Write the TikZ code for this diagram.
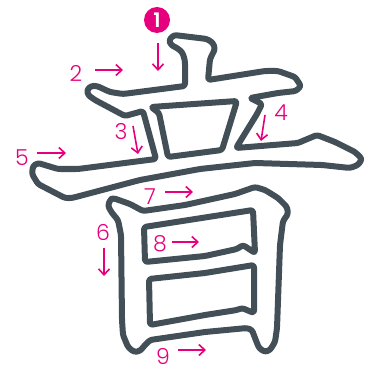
\documentclass[tikz,border=0pt]{standalone}
\usepackage{fontspec}
\usetikzlibrary{arrows.meta}
\newfontfamily\lblfont{Poppins}[UprightFont=* Light]
\newfontfamily\onefont{Poppins}[UprightFont=* SemiBold]
\definecolor{ink}{RGB}{67,79,87}
\definecolor{mag}{RGB}{230,0,126}
\tikzset{
  outl/.style={draw=ink, line width=6pt, line join=round, rounded corners=2.5pt},
  num/.style={text=mag, font=\lblfont\fontsize{22}{22}\selectfont, inner sep=0pt},
  arr/.style={draw=mag, line width=1.6pt, -{Straight Barb[length=6pt,width=11pt]}},
}
\begin{document}
\begin{tikzpicture}[x=1pt,y=-1pt]
\useasboundingbox (0,0) rectangle (370,371);
% upper part (strokes 1-5)
\draw[outl] (174,35) -- (207,39) -- (213,43) -- (215,49) -- (212,55) -- (210,59) -- (208,80)
  -- (265,71) -- (278,71) -- (295,77) -- (301,86) -- (296,91) -- (278,93) -- (250,98)
  -- (262,104) -- (257,114) -- (236,148) -- (298,143) -- (305,140) -- (317,135) -- (335,142)
  -- (355,152) -- (362,159) -- (358,165) -- (350,168) -- (322,165) -- (255,163) -- (200,169)
  -- (140,180) -- (72,198) -- (65,198) -- (38,184) -- (32,174) -- (33,166) -- (38,163)
  -- (58,169) -- (78,169) -- (156,159) -- (143,111) -- (125,116) -- (95,100) -- (88,95)
  -- (87,90) -- (91,86) -- (97,86) -- (110,92) -- (123,94) -- (185,86) -- (185,62)
  -- (184,57) -- (182,52) -- (177,48) -- (171,45) -- (169,40) -- cycle;
\draw[outl] (151,107) -- (237,101) -- (222,150) -- (168,157) -- (159,113) -- cycle;
% lower part (strokes 6-9)
\draw[outl] (113,198) -- (130,204) -- (143,211) -- (185,205) -- (235,194) -- (255,187)
  -- (265,190) -- (278,198) -- (287,207) -- (288,214) -- (283,221) -- (280,245) -- (277,328)
  -- (275,342) -- (270,350) -- (265,352) -- (259,348) -- (255,338) -- (252,330) -- (247,328)
  -- (205,332) -- (150,340) -- (145,345) -- (140,351) -- (134,352) -- (128,347) -- (123,335)
  -- (122,320) -- (121,235) -- (118,220) -- (112,213) -- (108,206) -- (110,200) -- cycle;
\draw[outl] (144,227) -- (253,210) -- (255,253) -- (243,245) -- (237,249) -- (205,256) -- (145,262) -- cycle;
\draw[outl] (149,279) -- (205,273) -- (254,265) -- (254,313) -- (242,308) -- (237,310) -- (205,315) -- (150,325) -- cycle;
% stroke numbers
\node[circle, fill=mag, minimum size=26pt, inner sep=0pt, text=white, font=\onefont\fontsize{20}{20}\selectfont] (n1) at (157,20) {1};
\node[num] (n2) at (76,73) {2};
\node[num] (n3) at (121,132) {3};
\node[num] (n4) at (281,113) {4};
\node[num] (n5) at (22,158) {5};
\node[num] (n6) at (103,232) {6};
\node[num] (n7) at (150,197) {7};
\node[num] (n8) at (160,244) {8};
\node[num] (n9) at (163,356) {9};
% arrows
\coordinate (a1s) at (158,43); \coordinate (a1e) at (158,71);
\coordinate (a2s) at (95,70);  \coordinate (a2e) at (123,70);
\coordinate (a3s) at (133,126); \coordinate (a3e) at (138,154);
\coordinate (a4s) at (265,115); \coordinate (a4e) at (261,141);
\coordinate (a5s) at (37,153); \coordinate (a5e) at (66,153);
\coordinate (a6s) at (104,248); \coordinate (a6e) at (104,276);
\coordinate (a7s) at (165,192); \coordinate (a7e) at (193,192);
\coordinate (a8s) at (172,242); \coordinate (a8e) at (199,242);
\coordinate (a9s) at (178,350); \coordinate (a9e) at (206,350);
\foreach \i in {1,...,9} { \draw[arr] (a\i s) -- (a\i e); }
\end{tikzpicture}
\end{document}
